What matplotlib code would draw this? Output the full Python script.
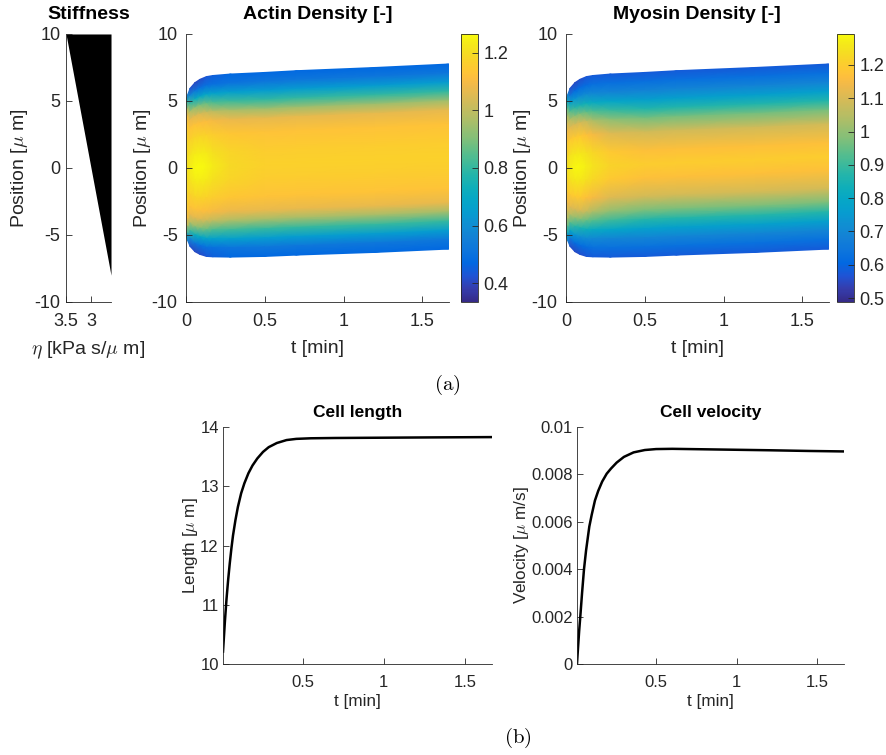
import numpy as np
import matplotlib
matplotlib.use('Agg')
import matplotlib.pyplot as plt
from matplotlib.colors import LinearSegmentedColormap
from matplotlib.ticker import FuncFormatter

plt.rcParams['font.family'] = ['Liberation Sans', 'DejaVu Sans']
plt.rcParams['mathtext.fontset'] = 'cm'
plt.rcParams['axes.unicode_minus'] = False

# ---------------- data ----------------
stiff_pos = [10, -8]
stiff_eta = [3.5, 2.6]

t_grid = [0, 0.01, 0.026, 0.057, 0.089, 0.13, 0.17, 0.28, 0.5, 0.7, 1.2, 1.667]
upper_edge = [5.05, 5.45, 5.95, 6.37, 6.62, 6.82, 6.90, 7.01, 7.13, 7.26, 7.50, 7.76]
lower_edge = [-5.0, -5.4, -5.85, -6.25, -6.45, -6.60, -6.63, -6.65, -6.60, -6.50, -6.30, -6.05]

# normalized position inside the cell (edge = 1, centre = 0)
s_half = [1.0, 0.9, 0.8, 0.7, 0.6, 0.5, 0.35, 0.15, 0.0]

actin_half = [
    [0.85, 1.05, 1.10, 1.12, 1.13, 1.14, 1.15, 1.16, 1.16],
    [0.55, 0.80, 1.00, 1.10, 1.14, 1.16, 1.18, 1.20, 1.21],
    [0.42, 0.60, 0.82, 0.98, 1.08, 1.13, 1.17, 1.22, 1.24],
    [0.40, 0.52, 0.73, 0.93, 1.06, 1.13, 1.18, 1.24, 1.26],
    [0.41, 0.50, 0.70, 0.90, 1.05, 1.12, 1.18, 1.24, 1.265],
    [0.43, 0.50, 0.68, 0.87, 1.02, 1.11, 1.17, 1.23, 1.255],
    [0.45, 0.50, 0.67, 0.84, 1.00, 1.10, 1.16, 1.21, 1.235],
    [0.47, 0.51, 0.66, 0.82, 0.97, 1.08, 1.14, 1.18, 1.19],
    [0.47, 0.52, 0.65, 0.80, 0.95, 1.07, 1.13, 1.16, 1.17],
    [0.47, 0.52, 0.65, 0.80, 0.95, 1.07, 1.13, 1.16, 1.17],
    [0.47, 0.52, 0.65, 0.80, 0.95, 1.07, 1.13, 1.16, 1.17],
    [0.47, 0.52, 0.65, 0.80, 0.95, 1.07, 1.13, 1.16, 1.17],
]

myosin_half = [
    [0.90, 0.97, 1.00, 1.02, 1.03, 1.04, 1.05, 1.05, 1.05],
    [0.68, 0.83, 0.96, 1.05, 1.10, 1.14, 1.18, 1.22, 1.24],
    [0.56, 0.66, 0.80, 0.94, 1.05, 1.12, 1.19, 1.25, 1.27],
    [0.55, 0.62, 0.74, 0.88, 1.00, 1.10, 1.19, 1.26, 1.285],
    [0.56, 0.62, 0.72, 0.85, 0.98, 1.10, 1.19, 1.26, 1.285],
    [0.57, 0.62, 0.71, 0.83, 0.95, 1.07, 1.17, 1.245, 1.27],
    [0.58, 0.63, 0.70, 0.81, 0.93, 1.04, 1.15, 1.225, 1.25],
    [0.58, 0.63, 0.69, 0.79, 0.90, 1.00, 1.11, 1.19, 1.215],
    [0.58, 0.63, 0.69, 0.77, 0.87, 0.97, 1.09, 1.17, 1.20],
    [0.58, 0.63, 0.69, 0.77, 0.87, 0.97, 1.09, 1.17, 1.20],
    [0.58, 0.63, 0.69, 0.77, 0.87, 0.97, 1.09, 1.17, 1.20],
    [0.58, 0.63, 0.69, 0.77, 0.87, 0.97, 1.09, 1.17, 1.20],
]

actin_clim = [0.334, 1.266]
myosin_clim = [0.488, 1.293]
actin_ticks = [0.4, 0.6, 0.8, 1.0, 1.2]
myosin_ticks = [0.5, 0.6, 0.7, 0.8, 0.9, 1.0, 1.1, 1.2]

len_t = [0.0083, 0.02, 0.03, 0.04, 0.05, 0.06, 0.07, 0.085, 0.10, 0.12, 0.14, 0.165,
         0.19, 0.22, 0.255, 0.29, 0.34, 0.40, 0.46, 0.55, 0.70, 1.0, 1.3, 1.667]
len_v = [10.21, 10.72, 11.10, 11.42, 11.70, 11.95, 12.17, 12.43, 12.65, 12.88, 13.05, 13.22,
         13.35, 13.47, 13.58, 13.66, 13.73, 13.78, 13.80, 13.81, 13.815, 13.82, 13.825, 13.83]

vel_t = [0.0083, 0.015, 0.022, 0.029, 0.04, 0.052, 0.065, 0.085, 0.10, 0.12, 0.14, 0.165,
         0.193, 0.22, 0.255, 0.30, 0.36, 0.43, 0.50, 0.60, 0.80, 1.0, 1.2, 1.45, 1.667]
vel_v = [0.0, 0.0007, 0.0014, 0.0020, 0.0030, 0.0040, 0.0048, 0.0058, 0.0063, 0.0069, 0.0073, 0.0077,
         0.00803, 0.00825, 0.0085, 0.00874, 0.00893, 0.00903, 0.00907, 0.00908, 0.00906, 0.00904,
         0.00902, 0.00899, 0.00897]

# ---------------- style ----------------
parula_pts = [
    (0, (0.2081, 0.1663, 0.5292)), (3, (0.2081, 0.2386, 0.6771)),
    (6, (0.1253, 0.3242, 0.8303)), (9, (0.0060, 0.4086, 0.8828)),
    (12, (0.0498, 0.4586, 0.8641)), (15, (0.0779, 0.5040, 0.8384)),
    (18, (0.0641, 0.5570, 0.8240)), (21, (0.0265, 0.6137, 0.8135)),
    (24, (0.0228, 0.6535, 0.7768)), (27, (0.0590, 0.6838, 0.7254)),
    (30, (0.1453, 0.7098, 0.6646)), (33, (0.2586, 0.7317, 0.5954)),
    (36, (0.3953, 0.7459, 0.5244)), (39, (0.5300, 0.7491, 0.4661)),
    (42, (0.6473, 0.7456, 0.4188)), (45, (0.7525, 0.7384, 0.3768)),
    (48, (0.8507, 0.7299, 0.3360)), (51, (0.9450, 0.7261, 0.2886)),
    (53, (0.9938, 0.7455, 0.2403)), (55, (0.9955, 0.7861, 0.1967)),
    (57, (0.9789, 0.8271, 0.1633)), (59, (0.9626, 0.8705, 0.1309)),
    (61, (0.9598, 0.9218, 0.0948)), (63, (0.9763, 0.9831, 0.0538)),
]
parula = LinearSegmentedColormap.from_list('parula', [(i / 63, c) for i, c in parula_pts])

GRAY = (0.15, 0.15, 0.15)
fmt = FuncFormatter(lambda v, p: '%g' % v)


def matlab_axes(ax, tick_size, xpad=3, ypad=3):
    for side in ('top', 'right'):
        ax.spines[side].set_visible(False)
    for side in ('left', 'bottom'):
        ax.spines[side].set_color(GRAY)
        ax.spines[side].set_linewidth(0.6)
    ax.tick_params(direction='in', length=4, width=0.6, colors=GRAY,
                   labelsize=tick_size)
    ax.tick_params(axis='x', pad=xpad)
    ax.tick_params(axis='y', pad=ypad)


fig = plt.figure(figsize=(8.86, 7.55), dpi=100)

TOP_Y, TOP_H = 0.600, 0.355
TS, LS, TIT = 13, 14, 14

# Stiffness
ax0 = fig.add_axes([0.0745, TOP_Y, 0.0508, TOP_H])
ax0.fill_betweenx(stiff_pos, stiff_eta, min(stiff_eta), color='black', linewidth=0)
ax0.set_xlim(3.5, 2.6)
ax0.set_ylim(-10, 10)
ax0.set_xticks([3.5, 3])
ax0.set_yticks([-10, -5, 0, 5, 10])
ax0.xaxis.set_major_formatter(fmt)
ax0.yaxis.set_major_formatter(fmt)
matlab_axes(ax0, TS, xpad=8, ypad=4)
ax0.set_title('Stiffness', fontsize=TIT, fontweight='bold', pad=11)
ax0.set_ylabel(r'Position [$\mu$ m]', fontsize=LS, color=GRAY, labelpad=3)
ax0.set_xlabel(r'$\eta$ [kPa s/$\mu$ m]', fontsize=LS, color=GRAY, labelpad=7)


def density_panel(left, cb_left, field_half, clim, ticks, title):
    ax = fig.add_axes([left, TOP_Y, 0.2965, TOP_H])
    s_full = np.array(s_half + [-s for s in reversed(s_half[:-1])])
    C = np.array([row + row[-2::-1] for row in field_half]).T
    t = np.array(t_grid)
    up = np.array(upper_edge)
    lo = np.array(lower_edge)
    centre = (up + lo) / 2
    half = (up - lo) / 2
    X = np.tile(t, (len(s_full), 1))
    Y = centre[None, :] + s_full[:, None] * half[None, :]
    mesh = ax.pcolormesh(X, Y, C, shading='gouraud', cmap=parula,
                         vmin=clim[0], vmax=clim[1])
    ax.set_xlim(0, 1.667)
    ax.set_ylim(-10, 10)
    ax.set_xticks([0, 0.5, 1, 1.5])
    ax.set_yticks([-10, -5, 0, 5, 10])
    ax.xaxis.set_major_formatter(fmt)
    ax.yaxis.set_major_formatter(fmt)
    matlab_axes(ax, TS, xpad=8, ypad=6)
    ax.set_title(title, fontsize=TIT, fontweight='bold', pad=11)
    ax.set_ylabel(r'Position [$\mu$ m]', fontsize=LS, color=GRAY, labelpad=-1)
    ax.set_xlabel('t [min]', fontsize=LS, color=GRAY, labelpad=7)
    cax = fig.add_axes([cb_left, TOP_Y, 0.0188, TOP_H])
    cb = fig.colorbar(mesh, cax=cax, ticks=ticks)
    cb.ax.yaxis.set_major_formatter(fmt)
    cb.ax.tick_params(direction='in', length=4, width=0.6, colors=GRAY,
                      labelsize=TS, pad=4)
    cb.outline.set_edgecolor(GRAY)
    cb.outline.set_linewidth(0.6)
    return ax


density_panel(0.2099, 0.5203, actin_half, actin_clim, actin_ticks, 'Actin Density [-]')
density_panel(0.6388, 0.9447, myosin_half, myosin_clim, myosin_ticks, 'Myosin Density [-]')

fig.text(0.5045, 0.490, r'$\mathrm{(a)}$', ha='center', va='center', fontsize=15)

# Bottom row
BOT_Y, BOT_H = 0.1205, 0.3139
BTS, BLS, BTIT = 12, 12.3, 12.5

ax3 = fig.add_axes([0.2517, BOT_Y, 0.3036, BOT_H])
ax3.plot(len_t, len_v, color='black', linewidth=1.8)
ax3.set_xlim(0.0083, 1.667)
ax3.set_ylim(10, 14)
ax3.set_xticks([0.5, 1, 1.5])
ax3.set_yticks([10, 11, 12, 13, 14])
ax3.xaxis.set_major_formatter(fmt)
ax3.yaxis.set_major_formatter(fmt)
matlab_axes(ax3, BTS, xpad=8, ypad=3)
ax3.set_title('Cell length', fontsize=BTIT, fontweight='bold', pad=7)
ax3.set_ylabel(r'Length [$\mu$ m]', fontsize=BLS, color=GRAY, labelpad=0)
ax3.set_xlabel('t [min]', fontsize=BLS, color=GRAY, labelpad=3)

ax4 = fig.add_axes([0.6512, BOT_Y, 0.3014, BOT_H])
ax4.plot(vel_t, vel_v, color='black', linewidth=1.8)
ax4.set_xlim(0.0083, 1.667)
ax4.set_ylim(0, 0.01)
ax4.set_xticks([0.5, 1, 1.5])
ax4.set_yticks([0, 0.002, 0.004, 0.006, 0.008, 0.01])
ax4.xaxis.set_major_formatter(fmt)
ax4.yaxis.set_major_formatter(fmt)
matlab_axes(ax4, BTS, xpad=8, ypad=3)
ax4.set_title('Cell velocity', fontsize=BTIT, fontweight='bold', pad=7)
ax4.set_ylabel(r'Velocity [$\mu$ m/s]', fontsize=BLS, color=GRAY, labelpad=0)
ax4.set_xlabel('t [min]', fontsize=BLS, color=GRAY, labelpad=3)

fig.text(0.585, 0.0225, r'$\mathrm{(b)}$', ha='center', va='center', fontsize=15)

fig.savefig('out.png', dpi=100)
